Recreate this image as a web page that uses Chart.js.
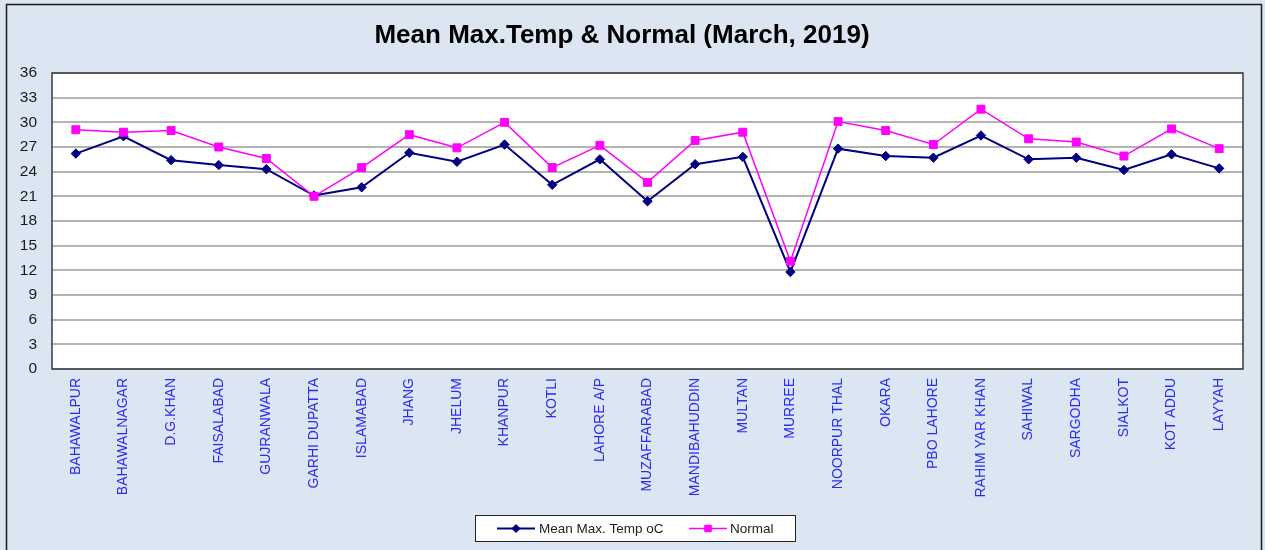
<!DOCTYPE html>
<html lang="en">
<head>
<meta charset="UTF-8" />
<title>Mean Max.Temp & Normal (March, 2019)</title>
<script src="https://cdn.jsdelivr.net/npm/chart.js"></script>
<style>
  html, body { margin: 0; padding: 0; background: #dce6f2; }
  #wrap { width: 1265px; height: 550px; }
</style>
</head>
<body>
<div id="wrap"><canvas id="tempChart" width="1265" height="550"></canvas></div>

<script>
// station names (x axis)
const stations = [
  'BAHAWALPUR', 'BAHAWALNAGAR', 'D.G.KHAN', 'FAISALABAD', 'GUJRANWALA',
  'GARHI DUPATTA', 'ISLAMABAD', 'JHANG', 'JHELUM', 'KHANPUR', 'KOTLI',
  'LAHORE A/P', 'MUZAFFARABAD', 'MANDIBAHUDDIN', 'MULTAN', 'MURREE',
  'NOORPUR THAL', 'OKARA', 'PBO LAHORE', 'RAHIM YAR KHAN', 'SAHIWAL',
  'SARGODHA', 'SIALKOT', 'KOT ADDU', 'LAYYAH'
];

// mean max temperature, March 2019
const meanMaxTemp = [
  26.2, 28.3, 25.4, 24.8, 24.3, 21.1, 22.1, 26.3, 25.2, 27.3, 22.4,
  25.5, 20.4, 24.9, 25.8, 11.8, 26.8, 25.9, 25.7, 28.4, 25.5,
  25.7, 24.2, 26.1, 24.4
];

// normal values
const normalTemp = [
  29.1, 28.8, 29.0, 27.0, 25.6, 21.0, 24.5, 28.5, 26.9, 30.0, 24.5,
  27.2, 22.7, 27.8, 28.8, 13.1, 30.1, 29.0, 27.3, 31.6, 28.0,
  27.6, 25.9, 29.2, 26.8
];

const yTicks = { min: 0, max: 36, step: 3 };

const titleText = 'Mean Max.Temp & Normal (March, 2019)';

// background, frame, white plot area, title and the boxed legend
const frame = {
  id: 'frame',
  beforeDraw(chart) {
    const ctx = chart.ctx;
    const a = chart.chartArea;
    ctx.save();
    ctx.fillStyle = '#dce6f2';
    ctx.fillRect(0, 0, chart.width, chart.height);
    ctx.strokeStyle = '#1a1a1a';
    ctx.lineWidth = 1.5;
    ctx.beginPath();
    ctx.moveTo(6.5, chart.height + 2);
    ctx.lineTo(6.5, 4.5);
    ctx.lineTo(1261.5, 4.5);
    ctx.lineTo(1261.5, chart.height + 2);
    ctx.stroke();
    ctx.fillStyle = '#ffffff';
    ctx.fillRect(a.left, a.top, a.right - a.left, a.bottom - a.top);
    ctx.restore();
  },
  afterDraw(chart) {
    const ctx = chart.ctx;
    const a = chart.chartArea;
    ctx.save();
    // plot border
    ctx.strokeStyle = '#3a3a3a';
    ctx.lineWidth = 1.5;
    ctx.strokeRect(a.left, a.top, a.right - a.left, a.bottom - a.top);

    // title
    ctx.fillStyle = '#000';
    ctx.font = 'bold 26px "Liberation Sans", Arial, sans-serif';
    ctx.textAlign = 'center';
    ctx.textBaseline = 'middle';
    ctx.fillText(titleText, 622, 36);

    // legend
    ctx.fillStyle = '#ffffff';
    ctx.fillRect(475, 515, 320, 26);
    ctx.strokeStyle = '#222';
    ctx.lineWidth = 1;
    ctx.strokeRect(475.5, 515.5, 320, 26);
    const items = [
      { ds: chart.data.datasets[0], x0: 497, x1: 535, tx: 539, r: 4 },
      { ds: chart.data.datasets[1], x0: 689, x1: 727, tx: 730, r: 4.6 }
    ];
    const ly = 528.5;
    ctx.font = '13.5px "Liberation Sans", Arial, sans-serif';
    ctx.textAlign = 'left';
    ctx.textBaseline = 'middle';
    items.forEach(it => {
      ctx.strokeStyle = it.ds.borderColor;
      ctx.lineWidth = it.ds.borderWidth;
      ctx.beginPath();
      ctx.moveTo(it.x0, ly);
      ctx.lineTo(it.x1, ly);
      ctx.stroke();
      ctx.fillStyle = it.ds.backgroundColor;
      ctx.lineWidth = 1;
      Chart.helpers.drawPoint(ctx, {
        pointStyle: it.ds.pointStyle,
        rotation: 0,
        radius: it.r,
        borderWidth: 1
      }, (it.x0 + it.x1) / 2, ly);
      ctx.fillStyle = '#222';
      ctx.fillText(it.ds.label, it.tx, ly + 1);
    });
    ctx.restore();
  }
};

new Chart(document.getElementById('tempChart'), {
  type: 'line',
  data: {
    labels: stations,
    datasets: [
      {
        label: 'Mean Max. Temp oC',
        data: meanMaxTemp,
        borderColor: '#000080',
        backgroundColor: '#000080',
        borderWidth: 2,
        pointStyle: 'rectRot',
        pointRadius: 4.7,
        pointBorderWidth: 1,
        tension: 0,
        order: 2
      },
      {
        label: 'Normal',
        data: normalTemp,
        borderColor: '#ff00ff',
        backgroundColor: '#ff00ff',
        borderWidth: 1.5,
        pointStyle: 'rect',
        pointRadius: 5.6,
        pointBorderWidth: 1,
        tension: 0,
        order: 1
      }
    ]
  },
  options: {
    responsive: false,
    animation: false,
    layout: { padding: { top: 73, left: 0, right: 22, bottom: 0 } },
    plugins: {
      legend: { display: false },
      title: { display: false },
      tooltip: { enabled: false }
    },
    scales: {
      x: {
        offset: true,
        grid: { display: false, drawTicks: false },
        border: { display: false },
        afterFit: s => { s.height = 181; },
        ticks: {
          autoSkip: false,
          minRotation: 90,
          maxRotation: 90,
          padding: 9,
          color: '#2a2af0',
          font: { family: '"Liberation Sans", Arial, sans-serif', size: 14 }
        }
      },
      y: {
        min: yTicks.min,
        max: yTicks.max,
        afterFit: s => { s.width = 52; },
        grid: { color: '#b4b4b4', lineWidth: 2, drawTicks: false },
        border: { display: false },
        ticks: {
          stepSize: yTicks.step,
          padding: 15,
          color: '#1a1a1a',
          font: { family: '"Liberation Sans", Arial, sans-serif', size: 15.5 }
        }
      }
    }
  },
  plugins: [frame]
});
</script>
</body>
</html>
